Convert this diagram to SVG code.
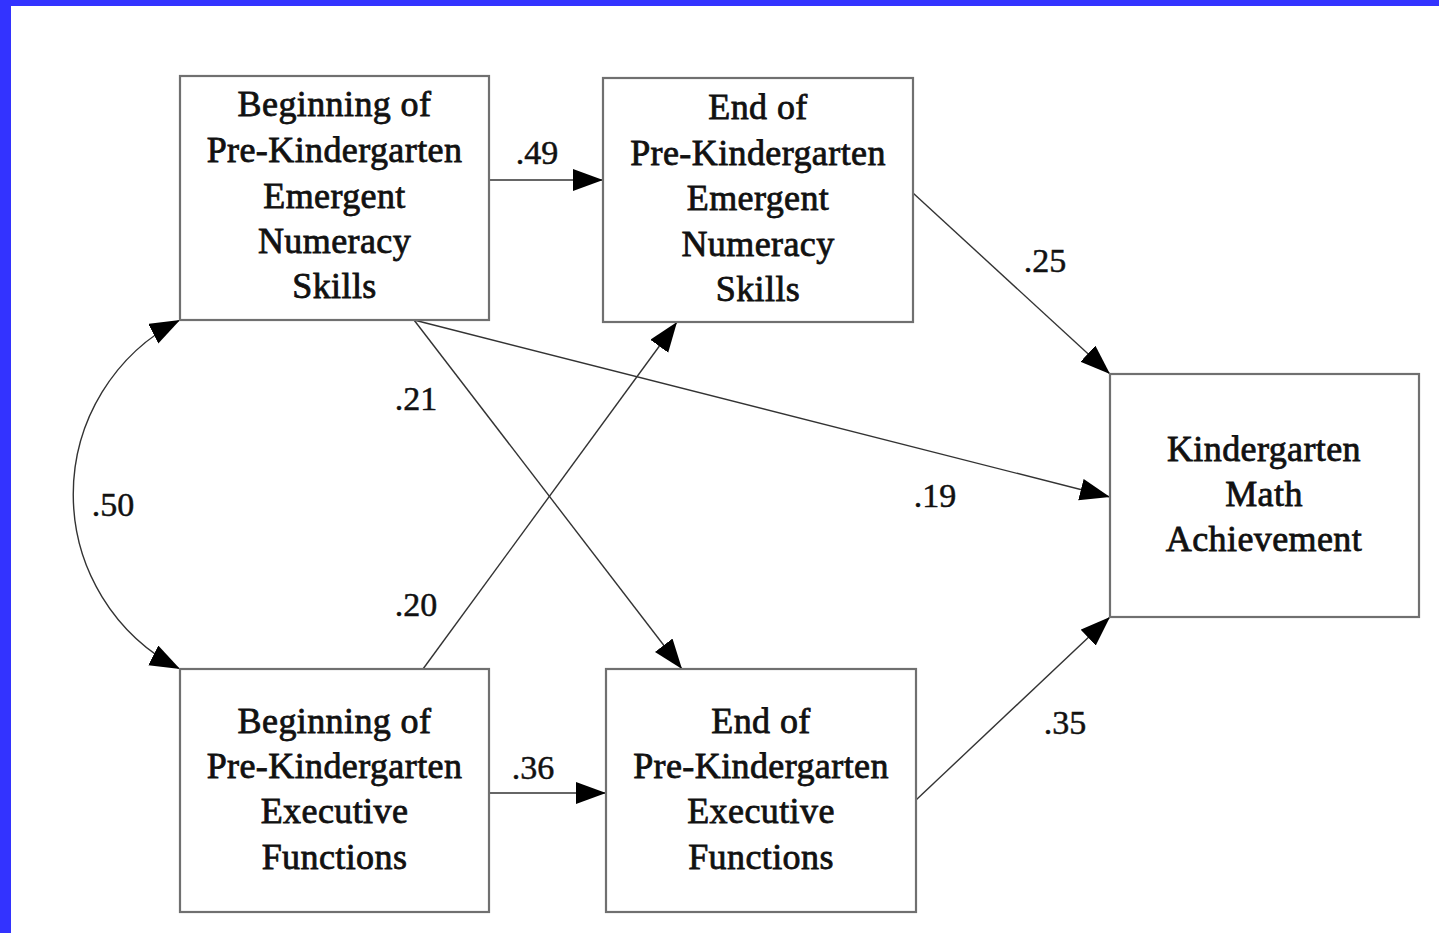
<svg xmlns="http://www.w3.org/2000/svg" width="1439" height="933" viewBox="0 0 1439 933">
<defs>
<marker id="ah" markerUnits="userSpaceOnUse" markerWidth="32" markerHeight="24" refX="30" refY="11" orient="auto-start-reverse" viewBox="0 0 32 24">
<path d="M0,0 L30,11 L0,22 z" fill="#000"/>
</marker>
<style>
.box{fill:#fff;stroke:#707070;stroke-width:2.2}
.t{font-family:"Liberation Serif","Times New Roman",serif;font-size:36px;letter-spacing:0.4px;fill:#111;text-anchor:middle;stroke:#111;stroke-width:0.8}
.n{font-family:"Liberation Serif","Times New Roman",serif;font-size:34px;fill:#111;text-anchor:middle;stroke:#111;stroke-width:0.5}
.c{fill:none;stroke:#333;stroke-width:1.4;marker-end:url(#ah)}
</style>
</defs>
<rect x="0" y="0" width="1439" height="933" fill="#fff"/>
<rect x="0" y="0" width="1439" height="6" fill="#3333ff"/>
<rect x="0" y="0" width="11" height="933" fill="#3333ff"/>
<g id="connectors">
<line class="c" x1="489" y1="180" x2="603" y2="180"/>
<line class="c" x1="913" y1="193" x2="1110" y2="374"/>
<line class="c" x1="414" y1="320" x2="1110" y2="497"/>
<line class="c" x1="414" y1="320" x2="682" y2="669"/>
<line class="c" x1="423" y1="669" x2="677" y2="322"/>
<line class="c" x1="489" y1="793" x2="606" y2="793"/>
<line class="c" x1="916" y1="800" x2="1110" y2="617"/>
<path class="c" d="M180,320 A196,196 0 0 0 180,669" style="marker-start:url(#ah)"/>
<text class="n" x="537" y="164">.49</text>
<text class="n" x="1045" y="272">.25</text>
<text class="n" x="935" y="507">.19</text>
<text class="n" x="416" y="410">.21</text>
<text class="n" x="416" y="616">.20</text>
<text class="n" x="533" y="779">.36</text>
<text class="n" x="1065" y="734">.35</text>
<text class="n" x="113" y="516">.50</text>
</g>
<g id="begin-numeracy">
<rect class="box" x="180" y="76" width="309" height="244"/>
<text class="t" x="334.5" y="116">Beginning of</text>
<text class="t" x="334.5" y="162">Pre-Kindergarten</text>
<text class="t" x="334.5" y="208">Emergent</text>
<text class="t" x="334.5" y="253">Numeracy</text>
<text class="t" x="334.5" y="298">Skills</text>
</g>
<g id="end-numeracy">
<rect class="box" x="603" y="78" width="310" height="244"/>
<text class="t" x="758" y="119">End of</text>
<text class="t" x="758" y="165">Pre-Kindergarten</text>
<text class="t" x="758" y="210">Emergent</text>
<text class="t" x="758" y="256">Numeracy</text>
<text class="t" x="758" y="301">Skills</text>
</g>
<g id="kindergarten-math">
<rect class="box" x="1110" y="374" width="309" height="243"/>
<text class="t" x="1264" y="461">Kindergarten</text>
<text class="t" x="1264" y="506">Math</text>
<text class="t" x="1264" y="551">Achievement</text>
</g>
<g id="begin-ef">
<rect class="box" x="180" y="669" width="309" height="243"/>
<text class="t" x="334.5" y="733">Beginning of</text>
<text class="t" x="334.5" y="778">Pre-Kindergarten</text>
<text class="t" x="334.5" y="823">Executive</text>
<text class="t" x="334.5" y="869">Functions</text>
</g>
<g id="end-ef">
<rect class="box" x="606" y="669" width="310" height="243"/>
<text class="t" x="761" y="733">End of</text>
<text class="t" x="761" y="778">Pre-Kindergarten</text>
<text class="t" x="761" y="823">Executive</text>
<text class="t" x="761" y="869">Functions</text>
</g>
</svg>
